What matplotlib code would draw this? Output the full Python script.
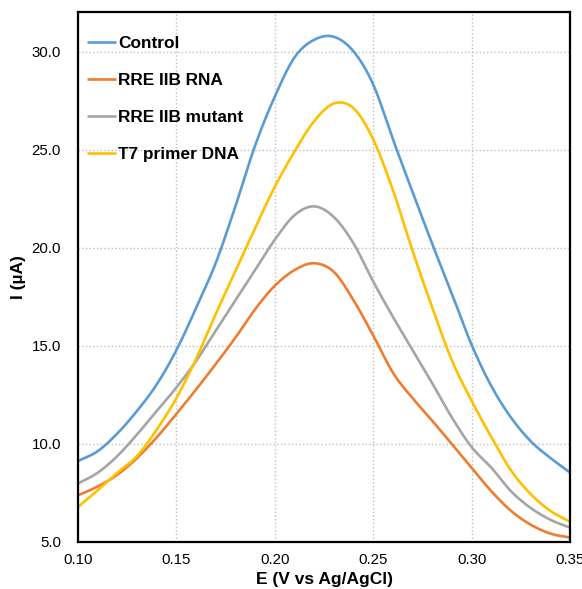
import numpy as np
import matplotlib
matplotlib.use('Agg')
import matplotlib.pyplot as plt
from matplotlib.ticker import FormatStrFormatter

plt.rcParams['font.family'] = ['Liberation Sans', 'DejaVu Sans']

# potential (V vs Ag/AgCl)
E = [0.10, 0.11, 0.12, 0.13, 0.14, 0.15, 0.16, 0.17, 0.18, 0.19, 0.20, 0.21, 0.22,
     0.23, 0.24, 0.25, 0.26, 0.27, 0.28, 0.29, 0.30, 0.31, 0.32, 0.33, 0.34, 0.35]

control = [9.1, 9.6, 10.5, 11.65, 13.0, 14.75, 16.9, 19.2, 22.1, 25.2, 27.7, 29.7, 30.6,
           30.75, 30.0, 28.3, 25.5, 22.8, 20.15, 17.6, 15.0, 12.9, 11.3, 10.1, 9.25, 8.5]
rre_rna = [7.35, 7.8, 8.4, 9.25, 10.3, 11.5, 12.75, 14.05, 15.4, 16.85, 18.05, 18.85, 19.2,
           18.75, 17.3, 15.5, 13.6, 12.3, 11.15, 9.95, 8.75, 7.55, 6.55, 5.85, 5.4, 5.2]
rre_mut = [7.95, 8.5, 9.35, 10.45, 11.65, 12.85, 14.2, 15.75, 17.3, 18.85, 20.4, 21.65, 22.1,
           21.55, 20.2, 18.25, 16.45, 14.75, 13.05, 11.3, 9.8, 8.75, 7.55, 6.7, 6.1, 5.7]
t7_dna = [6.75, 7.6, 8.5, 9.35, 10.7, 12.3, 14.3, 16.6, 18.8, 21.0, 23.1, 24.9, 26.45,
          27.35, 27.1, 25.5, 22.9, 19.8, 16.9, 14.2, 12.15, 10.3, 8.6, 7.4, 6.55, 6.0]

labels = ['Control', 'RRE IIB RNA', 'RRE IIB mutant', 'T7 primer DNA']
colors = ['#5B9BD5', '#ED7D31', '#A5A5A5', '#FFC000']


def smooth(x, y, n=12):
    # catmull-rom smoothing, like excel's smoothed line
    x = np.asarray(x, float)
    y = np.asarray(y, float)
    px = np.concatenate([[2*x[0]-x[1]], x, [2*x[-1]-x[-2]]])
    py = np.concatenate([[2*y[0]-y[1]], y, [2*y[-1]-y[-2]]])
    t = np.linspace(0, 1, n, endpoint=False)
    xs, ys = [], []
    for i in range(1, len(px)-2):
        for p, out in ((px, xs), (py, ys)):
            p0, p1, p2, p3 = p[i-1], p[i], p[i+1], p[i+2]
            out.extend(0.5*((2*p1) + (-p0+p2)*t + (2*p0-5*p1+4*p2-p3)*t**2
                            + (-p0+3*p1-3*p2+p3)*t**3))
    xs.append(x[-1])
    ys.append(y[-1])
    return np.array(xs), np.array(ys)


fig = plt.figure(figsize=(5.82, 5.89), dpi=100)
ax = fig.add_axes([0.1335, 0.0806, 0.8467, 0.8985])

for series, lab, c in zip([control, rre_rna, rre_mut, t7_dna], labels, colors):
    xs, ys = smooth(E, series)
    ax.plot(xs, ys, color=c, lw=1.9, label=lab, solid_capstyle='butt')

ax.set_xlim(0.10, 0.35)
ax.set_ylim(5, 32)
ax.set_xticks(np.arange(0.10, 0.351, 0.05))
ax.set_yticks(np.arange(5, 30.1, 5))
ax.xaxis.set_major_formatter(FormatStrFormatter('%.2f'))
ax.yaxis.set_major_formatter(FormatStrFormatter('%.1f'))
ax.tick_params(length=0, labelsize=10.8)
ax.tick_params(axis='y', pad=12)
ax.tick_params(axis='x', pad=8)
ax.grid(True, color='#BFBFBF', linestyle=':', linewidth=1.0)
ax.set_axisbelow(True)
for s in ax.spines.values():
    s.set_linewidth(1.6)
    s.set_color('black')

ax.set_xlabel('E (V vs Ag/AgCl)', fontsize=12.5, fontweight='bold', labelpad=4)
ax.set_ylabel('I (µA)', fontsize=12.5, fontweight='bold', labelpad=4)

ax.legend(loc='upper left', bbox_to_anchor=(0.018, 0.955), frameon=False,
          prop={'weight': 'bold', 'size': 12.4}, handlelength=1.7,
          handletextpad=0.12, labelspacing=1.28, borderaxespad=0, borderpad=0)

fig.savefig('out.png', dpi=100)
